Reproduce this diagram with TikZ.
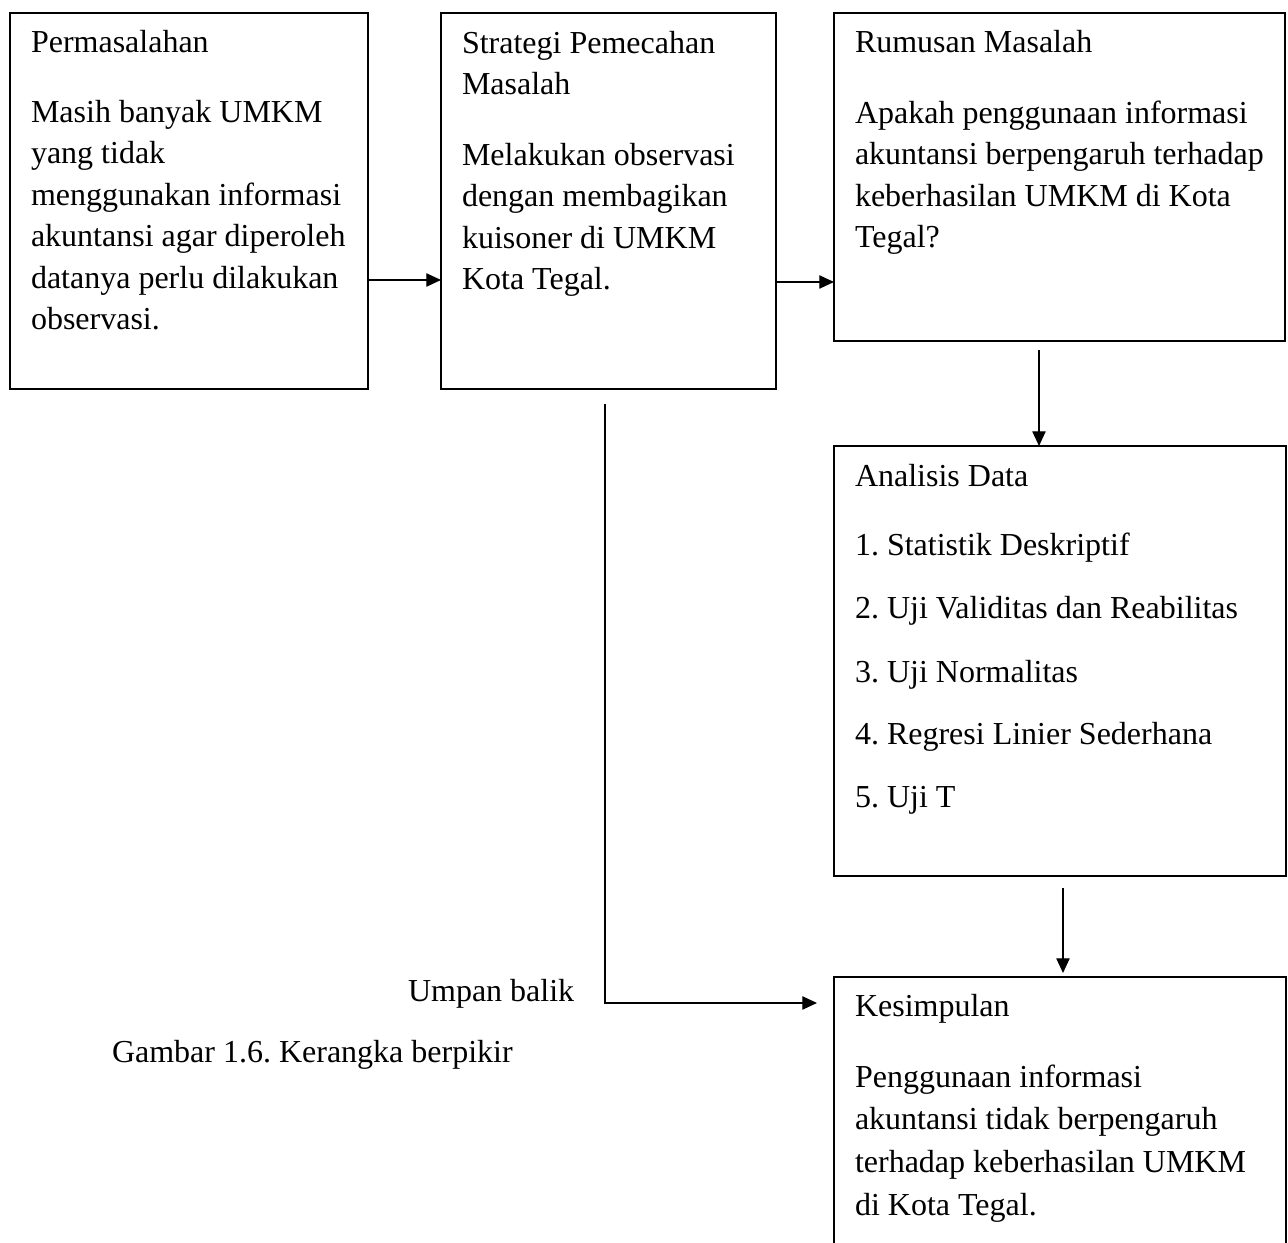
\documentclass[tikz,border=0pt]{standalone}
\usepackage{fontspec}
\setmainfont{Liberation Serif}
\usetikzlibrary{arrows.meta}
\begin{document}
\frenchspacing
\begin{tikzpicture}[x=0.375pt,y=-0.375pt,
  box/.style={draw, line width=0.75pt, rectangle, inner sep=0pt, outer sep=0pt, anchor=north west},
  tx/.style={anchor=north west, inner sep=0pt, outer sep=0pt, align=left, font=\fontsize{12}{15.5625}\selectfont\frenchspacing},
  bl/.style={anchor=base west, inner sep=0pt, outer sep=0pt, font=\fontsize{12}{15.5625}\selectfont\frenchspacing},
  arr/.style={line width=0.45pt, -{Triangle[length=5.5pt,width=5pt]}}]
\clip (0,0) rectangle (1288,1243);
\fill[white] (0,0) rectangle (1288,1243);
% boxes
\node[box, minimum width=134.25pt, minimum height=141pt] (b1) at (10,13) {};
\node[box, minimum width=125.625pt, minimum height=141pt] (b2) at (441,13) {};
\node[box, minimum width=169.125pt, minimum height=123pt] (b3) at (834,13) {};
\node[box, minimum width=169.5pt, minimum height=161.25pt] (b4) at (834,446) {};
\node[box, minimum width=169.5pt, minimum height=112.5pt] (b5) at (834,977) {};
% texts box 1
\node[bl] (t1h) at (31,53) {Permasalahan};
\node[tx] (t1) at (31,93) {\strut Masih banyak UMKM\\yang tidak\\menggunakan informasi\\akuntansi agar diperoleh\\datanya perlu dilakukan\\observasi.};
% box 2
\node[tx] (t2h) at (462,24) {\strut Strategi Pemecahan\\Masalah};
\node[tx] (t2) at (462,136) {\strut Melakukan observasi\\dengan membagikan\\kuisoner di UMKM\\Kota Tegal.};
% box 3
\node[bl] (t3h) at (855,53) {Rumusan Masalah};
\node[tx] (t3) at (855,94) {\strut Apakah penggunaan informasi\\akuntansi berpengaruh terhadap\\keberhasilan UMKM di Kota\\Tegal?};
% box 4
\node[bl] (t4h) at (855,487) {Analisis Data};
\node[bl] (t4a) at (855,556) {1. Statistik Deskriptif};
\node[bl] (t4b) at (855,619) {2. Uji Validitas dan Reabilitas};
\node[bl] (t4c) at (855,683) {3. Uji Normalitas};
\node[bl] (t4d) at (855,745) {4. Regresi Linier Sederhana};
\node[bl] (t4e) at (855,808) {5. Uji T};
% box 5
\node[bl] (t5h) at (855,1017) {Kesimpulan};
\node[tx, font=\fontsize{12}{16.1}\selectfont\frenchspacing] (t5) at (855,1057) {\strut Penggunaan informasi\\akuntansi tidak berpengaruh\\terhadap keberhasilan UMKM\\di Kota Tegal.};
% free labels
\node[bl] (ub) at (408,1002) {Umpan balik};
\node[bl] (cap) at (112,1063) {Gambar 1.6. Kerangka berpikir};
% connectors
\coordinate (y1) at (0,280);
\coordinate (y2) at (0,282);
\draw[arr] (b1.east |- y1) -- (b2.west |- y1);
\draw[arr] (b2.east |- y2) -- (b3.west |- y2);
\coordinate (a3s) at (1039,350);
\draw[arr] (a3s) -- (b4.north -| a3s);
\coordinate (a4s) at (1063,888);
\draw[arr, shorten >=1.5pt] (a4s) -- (b5.north -| a4s);
\coordinate (fbs) at (605,404);
\coordinate (fbe) at (817,1003);
\draw[arr] (fbs) |- (fbe);
\end{tikzpicture}
\end{document}
